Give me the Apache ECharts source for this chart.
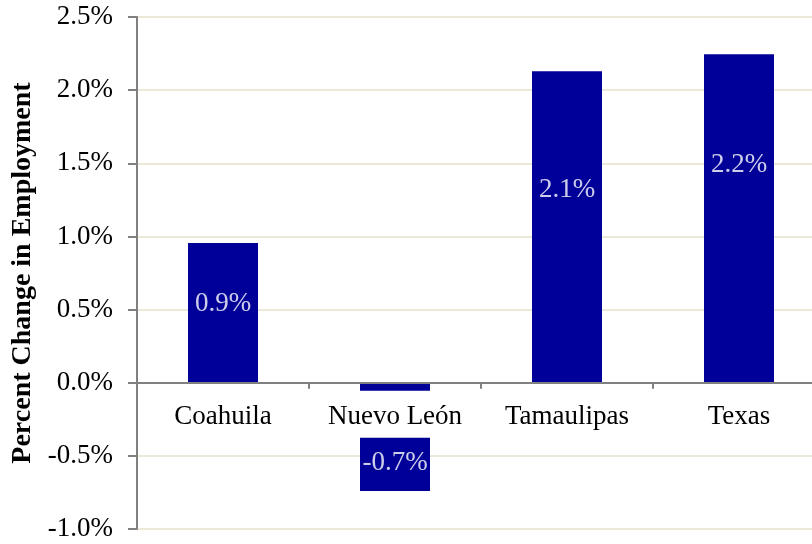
<!DOCTYPE html>
<html><head><meta charset="utf-8">
<script src="https://cdn.jsdelivr.net/npm/echarts@6/dist/echarts.min.js"></script>
<style>html,body{margin:0;padding:0;background:#fff}#c{width:812px;height:544px}</style>
</head><body><div id="c"></div>
<script>
var categories = ['Coahuila', 'Nuevo León', 'Tamaulipas', 'Texas'];
var values = [0.955, -0.74, 2.13, 2.245];
var labelTexts = ['0.9%', '-0.7%', '2.1%', '2.2%'];
var labelAnchors = [0.54, -0.55, 1.32, 1.49];
var yTicks = { min: -1.0, max: 2.5, interval: 0.5 };

var FONT = 'Liberation Serif';
var GRID_TOP = 17, GRID_BOTTOM = 15, H = 544;
// pixel distance from grid bottom to the zero line, computed from the axis range
var plotH = H - GRID_TOP - GRID_BOTTOM;
var zeroOffset = plotH * (0 - yTicks.min) / (yTicks.max - yTicks.min);

var chart = echarts.init(document.getElementById('c'), null, {renderer: 'canvas'});
chart.setOption({
  animation: false,
  grid: { left: 137, right: -13, top: GRID_TOP, bottom: GRID_BOTTOM, containLabel: false, outerBoundsMode: 'none' },
  xAxis: {
    type: 'category', data: categories, z: 5, position: 'bottom', offset: -zeroOffset,
    axisLine: { onZero: false, lineStyle: { color: '#808080', width: 2 } },
    axisTick: { show: true, alignWithLabel: false, length: 6, lineStyle: { color: '#808080', width: 2 } },
    axisLabel: { fontFamily: FONT, fontSize: 27, color: '#000', margin: 8, interval: 0,
      backgroundColor: '#fff', padding: [13, 4, 7, 4], lineHeight: 27 },
    splitLine: { show: false }
  },
  yAxis: {
    type: 'value', min: yTicks.min, max: yTicks.max, interval: yTicks.interval,
    name: 'Percent Change in Employment', nameLocation: 'middle', nameGap: 98, nameRotate: 90,
    nameTextStyle: { fontFamily: FONT, fontSize: 28, fontWeight: 'bold', color: '#000' },
    axisLine: { show: true, lineStyle: { color: '#808080', width: 2 } },
    axisTick: { show: true, length: 9, lineStyle: { color: '#808080', width: 2 } },
    axisLabel: { fontFamily: FONT, fontSize: 27, color: '#000', margin: 24,
      formatter: function (v) { return v.toFixed(1) + '%'; } },
    splitLine: { show: true, lineStyle: { color: '#ECE9D8', width: 2 } }
  },
  series: [
    { type: 'bar', data: values, barWidth: 70, itemStyle: { color: '#000099' }, z: 2 },
    { type: 'scatter', data: labelAnchors, symbolSize: 0, z: 10, silent: true,
      label: { show: true, position: 'inside', fontFamily: FONT, fontSize: 27, color: '#fff',
        formatter: function (p) { return labelTexts[p.dataIndex]; } } }
  ]
});
</script></body></html>
